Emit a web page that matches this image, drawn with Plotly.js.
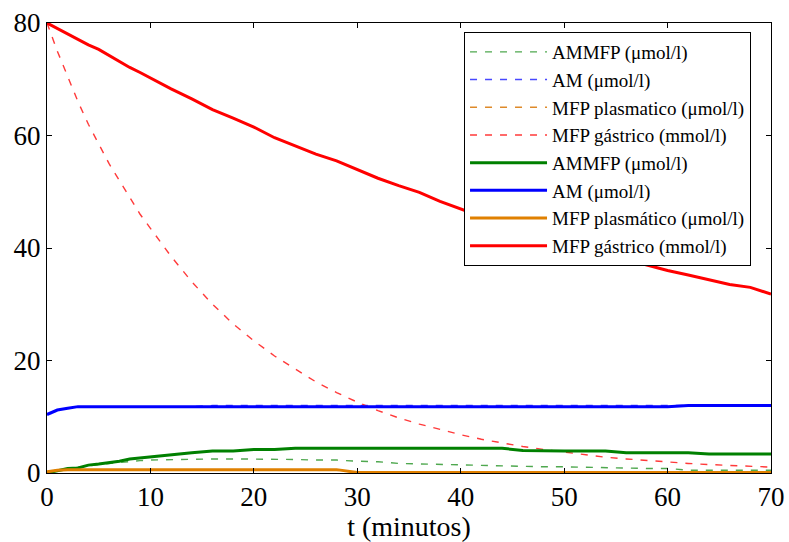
<!DOCTYPE html>
<html>
<head>
<meta charset="utf-8">
<script src="https://cdn.plot.ly/plotly-3.0.1.min.js"></script>
<style>html,body{margin:0;padding:0;background:#fff;}#chart{width:789px;height:542px;}</style>
</head>
<body>
<div id="chart"></div>
<script>
const t = [0,1,2,3,4,5,6,7,8,9,10,12,14,16,18,20,22,24,26,28,30,32,34,36,38,40,42,44,46,48,50,52,54,56,58,60,62,64,66,68,70];

// dashed series
const ammfpDash = [0,0.4,0.8,1.0,1.3,1.5,1.7,1.9,2.1,2.2,2.3,2.4,2.5,2.5,2.5,2.5,2.4,2.4,2.3,2.3,2.1,2.0,1.7,1.6,1.5,1.4,1.3,1.3,1.2,1.1,1.1,1.0,0.9,0.9,0.8,0.8,0.5,0.5,0.5,0.5,0.5];
const amDash = [10.4,11.2,11.5,11.8,11.8,11.8,11.8,11.8,11.8,11.8,11.8,11.8,11.8,12.0,12.0,12.0,12.0,12.0,12.0,12.0,12.0,12.0,12.0,12.0,12.0,12.0,12.0,12.0,12.0,12.0,12.0,12.0,12.0,12.0,12.0,12.0,12.0,12.0,12.0,12.0,12.0];
const mfpPlasDash = [0.2,0.5,0.5,0.5,0.5,0.5,0.5,0.5,0.5,0.5,0.5,0.5,0.5,0.5,0.5,0.5,0.5,0.5,0.5,0.5,0.1,0.1,0.1,0.1,0.1,0.1,0.1,0.1,0.1,0.1,0.1,0.1,0.1,0.1,0.1,0.1,0.1,0.1,0.1,0.1,0.1];
const mfpGasDash = [80,75,70.5,66,62,58.5,55,52,49,46,43.5,38.5,34,30,26.5,23.5,20.8,18.5,16.2,14.3,12.6,11.1,9.8,8.7,7.7,6.8,6.0,5.3,4.7,4.2,3.7,3.2,2.8,2.5,2.2,1.95,1.7,1.5,1.35,1.2,1.05];

// solid series
const ammfp = [0,0.4,0.8,0.9,1.4,1.6,1.8,2.1,2.5,2.7,2.9,3.3,3.6,3.9,3.9,4.2,4.2,4.4,4.4,4.4,4.4,4.4,4.4,4.4,4.4,4.4,4.4,4.4,4.0,3.9,3.9,3.9,3.9,3.6,3.6,3.6,3.6,3.4,3.4,3.4,3.4];
const am = [10.4,11.2,11.5,11.8,11.8,11.8,11.8,11.8,11.8,11.8,11.8,11.8,11.8,11.8,11.8,11.8,11.8,11.8,11.8,11.8,11.8,11.8,11.8,11.8,11.8,11.8,11.8,11.8,11.8,11.8,11.8,11.8,11.8,11.8,11.8,11.8,12.0,12.0,12.0,12.0,12.0];
const mfpPlas = [0.2,0.5,0.6,0.6,0.6,0.6,0.6,0.6,0.6,0.6,0.6,0.6,0.6,0.6,0.6,0.6,0.6,0.6,0.6,0.6,0.1,0.1,0.1,0.1,0.1,0.1,0.1,0.1,0.1,0.1,0.1,0.1,0.1,0.1,0.1,0.1,0.1,0.1,0.1,0.1,0.1];
const mfpGas = [80,79,78,77,76.1,75.3,74.2,73.1,72.1,71.2,70.2,68.3,66.5,64.6,63.1,61.5,59.6,58.2,56.7,55.5,53.9,52.4,51.1,49.9,48.3,46.9,45.6,44.4,43.2,42.0,40.9,39.9,38.9,37.9,37.0,36.0,35.2,34.4,33.5,33.0,31.8];

const labels = ["AMMFP (μmol/l)","AM (μmol/l)","MFP plasmatico (μmol/l)","MFP gástrico (mmol/l)",
                "AMMFP (μmol/l)","AM (μmol/l)","MFP plasmático (μmol/l)","MFP gástrico (mmol/l)"];
const colors = ["#008000","#0000ff","#e08000","#ff0000"];
const dashColors = ["#4fa84f","#4848ff","#de8a2a","#ff3a3a"];

const dashedData = [ammfpDash, amDash, mfpPlasDash, mfpGasDash];
const solidData = [ammfp, am, mfpPlas, mfpGas];

const traces = [];
dashedData.forEach((y,i)=>traces.push({x:t,y:y,mode:'lines',name:labels[i],
  line:{color:dashColors[i],width:1.4,dash:'7px,8px'}}));
solidData.forEach((y,i)=>traces.push({x:t,y:y,mode:'lines',name:labels[i+4],
  line:{color:colors[i],width:3}}));

const fam = 'Liberation Serif, Times New Roman, serif';
const layout = {
  width:789, height:542,
  margin:{l:47,r:18,t:23,b:69},
  paper_bgcolor:'#fff', plot_bgcolor:'#fff',
  showlegend:true,
  font:{family:fam, color:'#000'},
  xaxis:{range:[0,70], tickvals:[0,10,20,30,40,50,60,70], ticks:'inside', ticklen:5, tickcolor:'#000',
    showline:true, linecolor:'#000', linewidth:1, mirror:'ticks', showgrid:false, zeroline:false,
    tickfont:{size:27, family:fam, color:'#000'},
    title:{text:'t (minutos)', font:{size:28, family:fam, color:'#000'}, standoff:2}},
  yaxis:{range:[0,80], tickvals:[0,20,40,60,80], ticks:'inside', ticklen:5, tickcolor:'#000',
    showline:true, linecolor:'#000', linewidth:1, mirror:'ticks', showgrid:false, zeroline:false,
    tickfont:{size:27, family:fam, color:'#000'}},
  legend:{x:0.576, y:0.98, xanchor:'left', yanchor:'top', bgcolor:'#fff', bordercolor:'#000', borderwidth:1,
    font:{size:19, family:fam, color:'#000'}, itemwidth:77, tracegroupgap:0}
};
Plotly.newPlot('chart', traces, layout, {displayModeBar:false, staticPlot:true});
</script>
</body>
</html>
